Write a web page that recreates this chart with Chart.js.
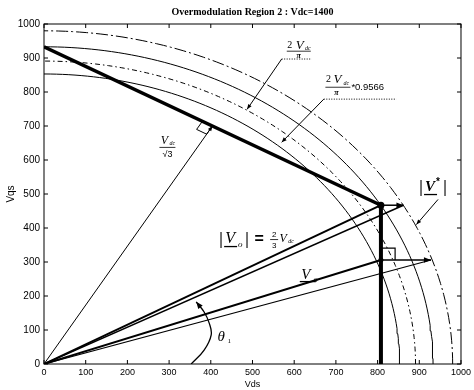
<!DOCTYPE html>
<html>
<head>
<meta charset="utf-8">
<script src="https://cdn.jsdelivr.net/npm/chart.js@4.4.1/dist/chart.umd.min.js"></script>
<style>
html, body { margin: 0; padding: 0; background: #fff; }
</style>
</head>
<body>
<canvas id="myChart" width="474" height="390"></canvas>
<script>
var titleText = 'Overmodulation Region 2 : Vdc=1400';
var xTitle = 'Vds';
var yTitle = 'Vqs';
var tickValues = [0, 100, 200, 300, 400, 500, 600, 700, 800, 900, 1000];

// circles: |V*|, 2Vdc/3, 2Vdc/pi, 2Vdc/pi*0.9566
var circleRadii = [980, 933, 891, 853];

// hexagon side + vertical limit
var hexX = [0, 808, 808];
var hexY = [933, 467, 0];

// vectors drawn from the origin
var vecX = [404, 808, 862, 808, 928];
var vecY = [700, 467, 467, 306, 306];

// horizontal arrows from the hexagon limit to the reference circle
var arrowFromX = [808, 808];
var arrowToX = [862, 928];
var arrowY = [467, 306];

// theta1 arc
var arcX = [353, 384, 401, 396, 384, 365];
var arcY = [0, 41, 86, 121, 153, 183];

// label leaders
var underAX = [570, 642], underAY = [897, 897];
var leadAX = [570, 487], leadAY = [897, 749];
var underBX = [671, 845], underBY = [779, 779];
var leadBX = [671, 570], leadBY = [779, 652];
var leadGX = [945, 893], leadGY = [484, 410];

// right angle marks
var rightAX = [404, 390, 366, 380];
var rightAY = [700, 676, 690, 714];
var rightBX = [810, 842, 842];
var rightBY = [341, 341, 306];

// dots
var dotX = [808, 808, 808];
var dotY = [467, 306, 266];

function pts(xs, ys) {
    var out = [];
    for (var i = 0; i < xs.length; i++) out.push({x: xs[i], y: ys[i]});
    return out;
}

function circlePts(r) {
    var out = [];
    for (var d = 0; d <= 90; d++) {
        out.push({x: r * Math.cos(d * Math.PI / 180), y: r * Math.sin(d * Math.PI / 180)});
    }
    return out;
}

function line(data, w, extra) {
    var ds = {data: data, showLine: true, borderColor: '#000', borderWidth: w,
        pointRadius: 0, fill: false, tension: 0};
    for (var k in extra) ds[k] = extra[k];
    return ds;
}

var datasets = [];
var dashes = [[12, 3, 2, 3], [], [5, 3, 1.5, 3], []];
circleRadii.forEach(function (r, i) {
    datasets.push(line(circlePts(r), 1, {borderDash: dashes[i]}));
});

datasets.push(line(pts([0, vecX[0]], [0, vecY[0]]), 1, {arrow: 5}));
datasets.push(line(pts([0, vecX[1]], [0, vecY[1]]), 2));
datasets.push(line(pts([0, vecX[2]], [0, vecY[2]]), 1.5));
datasets.push(line(pts([0, vecX[3]], [0, vecY[3]]), 2));
datasets.push(line(pts([0, vecX[4]], [0, vecY[4]]), 1.2));
datasets.push(line(pts(hexX.slice(0, 2), hexY.slice(0, 2)), 3.5));
datasets.push(line(pts(hexX.slice(1), hexY.slice(1)), 4));
for (var i = 0; i < arrowY.length; i++) {
    datasets.push(line(pts([arrowFromX[i], arrowToX[i]], [arrowY[i], arrowY[i]]), 1.5, {arrow: 7}));
}
datasets.push(line(pts(arcX, arcY), 1.3, {tension: 0.4, arrow: 7}));
datasets.push(line(pts(underAX, underAY), 1, {borderDash: [1, 1.5]}));
datasets.push(line(pts(leadAX, leadAY), 1, {arrow: 5}));
datasets.push(line(pts(underBX, underBY), 1, {borderDash: [1, 1.5]}));
datasets.push(line(pts(leadBX, leadBY), 1, {arrow: 5}));
datasets.push(line(pts(leadGX, leadGY), 1, {arrow: 5}));
datasets.push(line(pts(rightAX, rightAY), 1));
datasets.push(line(pts(rightBX, rightBY), 1.2));
datasets.push({data: pts(dotX, dotY), showLine: false, pointRadius: [3.5, 2.5, 2],
    pointBackgroundColor: '#000', pointBorderWidth: 0});

function arrowHead(ctx, x1, y1, x2, y2, size) {
    var a = Math.atan2(y2 - y1, x2 - x1);
    ctx.save();
    ctx.fillStyle = '#000';
    ctx.beginPath();
    ctx.moveTo(x2, y2);
    ctx.lineTo(x2 - size * Math.cos(a) + size * 0.4 * Math.sin(a), y2 - size * Math.sin(a) - size * 0.4 * Math.cos(a));
    ctx.lineTo(x2 - size * Math.cos(a) - size * 0.4 * Math.sin(a), y2 - size * Math.sin(a) + size * 0.4 * Math.cos(a));
    ctx.closePath();
    ctx.fill();
    ctx.restore();
}

function txt(ctx, s, x, y, font, align) {
    ctx.font = font;
    ctx.textAlign = align || 'center';
    ctx.fillText(s, x, y);
}

function hline(ctx, x1, x2, y, w) {
    ctx.lineWidth = w || 1;
    ctx.beginPath();
    ctx.moveTo(x1, y);
    ctx.lineTo(x2, y);
    ctx.stroke();
}

var serif = '"Liberation Serif", "DejaVu Serif", serif';
var sans = '"Liberation Sans", Arial, sans-serif';

var decor = {
    id: 'decor',
    afterDatasetsDraw: function (chart) {
        var ctx = chart.ctx;
        chart.data.datasets.forEach(function (ds, i) {
            if (!ds.arrow) return;
            var p = chart.getDatasetMeta(i).data;
            var a = p[p.length - 2], b = p[p.length - 1];
            arrowHead(ctx, a.x, a.y, b.x, b.y, ds.arrow);
        });
    },
    afterDraw: function (chart) {
        var ctx = chart.ctx, ca = chart.chartArea;
        var sx = chart.scales.x, sy = chart.scales.y;
        function X(v) { return sx.getPixelForValue(v); }
        function Y(v) { return sy.getPixelForValue(v); }

        ctx.save();
        ctx.strokeStyle = '#000';
        ctx.fillStyle = '#000';
        ctx.lineWidth = 1;
        ctx.strokeRect(ca.left, ca.top, ca.right - ca.left, ca.bottom - ca.top);
        ctx.beginPath();
        tickValues.forEach(function (v) {
            var px = X(v), py = Y(v);
            ctx.moveTo(px, ca.bottom); ctx.lineTo(px, ca.bottom - 4);
            ctx.moveTo(px, ca.top); ctx.lineTo(px, ca.top + 4);
            ctx.moveTo(ca.left, py); ctx.lineTo(ca.left + 4, py);
            ctx.moveTo(ca.right, py); ctx.lineTo(ca.right - 4, py);
        });
        ctx.stroke();

        ctx.textBaseline = 'middle';
        txt(ctx, titleText, (ca.left + ca.right) / 2, 12, 'bold 10px ' + serif);
        txt(ctx, xTitle, (ca.left + ca.right) / 2, 385, '9px ' + sans);
        ctx.save();
        ctx.translate(11, (ca.top + ca.bottom) / 2);
        ctx.rotate(-Math.PI / 2);
        txt(ctx, yTitle, 0, 0, '10px ' + sans);
        ctx.restore();

        // 2Vdc/pi
        var cx = X(611), cy = Y(920);
        txt(ctx, '2', cx - 9, cy - 6, '10px ' + serif);
        txt(ctx, 'V', cx + 1, cy - 6, 'italic 13px ' + serif);
        txt(ctx, 'dc', cx + 9, cy - 3, 'italic 6px ' + serif);
        hline(ctx, cx - 12, cx + 12, cy, 0.8);
        txt(ctx, '\u03c0', cx, cy + 5, 'italic bold 8px ' + serif);

        // 2Vdc/pi * 0.9566
        cx = X(706); cy = Y(814);
        txt(ctx, '2', cx - 10, cy - 8, '10px ' + serif);
        txt(ctx, 'V', cx - 1, cy - 8, 'italic 13px ' + serif);
        txt(ctx, 'dc', cx + 8, cy - 4, 'italic 6px ' + serif);
        hline(ctx, cx - 13, cx + 12, cy, 0.8);
        txt(ctx, '\u03c0', cx - 2, cy + 6, 'italic bold 8px ' + serif);
        txt(ctx, '*0.9566', cx + 13, cy, '9.5px ' + sans, 'left');

        // Vdc/sqrt3
        cx = X(296); cy = Y(637);
        txt(ctx, 'V', cx - 3, cy - 7, 'italic 12px ' + serif);
        txt(ctx, 'dc', cx + 5, cy - 4, 'italic 6px ' + serif);
        hline(ctx, cx - 8, cx + 8, cy, 0.8);
        txt(ctx, '\u221a3', cx, cy + 7, '9px ' + sans);

        // |Vo| = 2/3 Vdc
        cx = X(420); cy = Y(366);
        txt(ctx, '|', cx + 2, cy, 'bold 16px ' + serif);
        txt(ctx, 'V', cx + 11, cy - 1, 'italic 16px ' + serif);
        hline(ctx, cx + 5, cx + 18, cy + 7, 1.3);
        txt(ctx, 'o', cx + 21, cy + 5, 'italic 9px ' + serif);
        txt(ctx, '|', cx + 28, cy, 'bold 16px ' + serif);
        txt(ctx, '=', cx + 40, cy, 'bold 16px ' + sans);
        txt(ctx, '2', cx + 55, cy - 5, '8px ' + sans);
        hline(ctx, cx + 51, cx + 59, cy, 0.8);
        txt(ctx, '3', cx + 55, cy + 6, '8px ' + sans);
        txt(ctx, 'V', cx + 64, cy - 1, 'italic 12px ' + serif);
        txt(ctx, 'dc', cx + 72, cy + 2, 'italic 6px ' + serif);

        // Vo
        cx = X(623); cy = Y(260);
        txt(ctx, 'V', cx + 2, cy - 1, 'italic 15px ' + serif);
        hline(ctx, cx - 4, cx + 12, cy + 6, 1.3);
        txt(ctx, 'o', cx + 12, cy + 4, 'italic 8px ' + serif);

        // theta1
        cx = X(413); cy = Y(80);
        txt(ctx, '\u03b8', cx + 5, cy, 'italic 15px ' + serif);
        txt(ctx, '1', cx + 13, cy + 4, '7px ' + serif);

        // |V*|
        cx = X(897); cy = Y(519);
        txt(ctx, '|', cx + 3, cy, 'bold 16px ' + serif);
        txt(ctx, 'V', cx + 12, cy, 'italic bold 15px ' + serif);
        hline(ctx, cx + 6, cx + 19, cy + 7, 1.3);
        txt(ctx, '*', cx + 20, cy - 5, 'bold 10px ' + sans);
        txt(ctx, '|', cx + 27, cy, 'bold 16px ' + serif);
        ctx.restore();
    }
};

function plainTick(v) { return String(v); }

new Chart(document.getElementById('myChart'), {
    type: 'scatter',
    data: {datasets: datasets},
    options: {
        responsive: false,
        animation: false,
        layout: {padding: {top: 24, right: 11, left: 0, bottom: 0}},
        plugins: {legend: {display: false}, tooltip: {enabled: false}, title: {display: false}},
        scales: {
            x: {
                type: 'linear', min: 0, max: 1000,
                afterFit: function (s) { s.height = 26; },
                afterBuildTicks: function (s) { s.ticks = tickValues.map(function (v) { return {value: v}; }); },
                grid: {display: false, drawTicks: false},
                border: {display: false},
                ticks: {color: '#000', font: {size: 9, family: sans}, padding: 3, maxRotation: 0,
                    autoSkip: false, callback: plainTick}
            },
            y: {
                type: 'linear', min: 0, max: 1000,
                afterFit: function (s) { s.width = 44; },
                afterBuildTicks: function (s) { s.ticks = tickValues.map(function (v) { return {value: v}; }); },
                grid: {display: false, drawTicks: false},
                border: {display: false},
                ticks: {color: '#000', font: {size: 10, family: sans}, padding: 4,
                    autoSkip: false, callback: plainTick}
            }
        }
    },
    plugins: [decor]
});
</script>
</body>
</html>
